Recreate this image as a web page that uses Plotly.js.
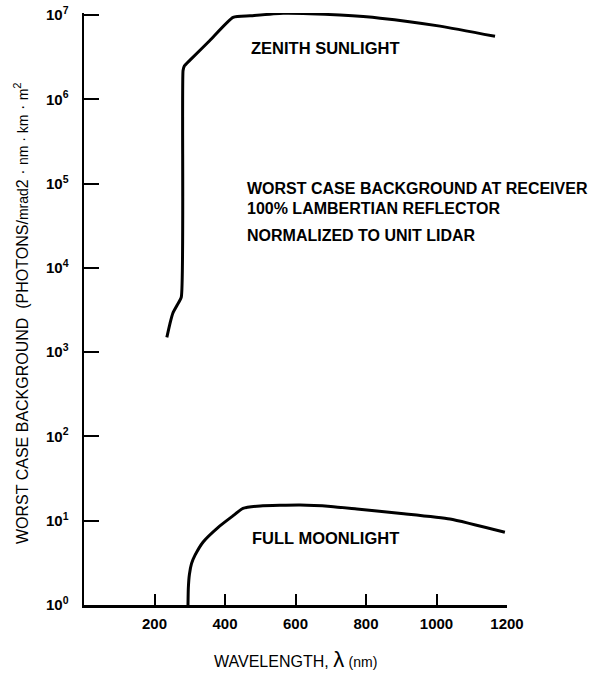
<!DOCTYPE html>
<html>
<head>
<meta charset="utf-8">
<script src="https://cdn.plot.ly/plotly-3.0.1.min.js"></script>
<style>html,body{margin:0;padding:0;background:#fff;}#chart{width:597px;height:677px;}</style>
</head>
<body>
<div id="chart"></div>
<script>
// Wavelength (nm) and worst-case background values
const sunWavelength = [235, 244, 252, 264, 276, 281, 285, 300, 357, 423, 471, 565, 640, 726, 840, 1010, 1166];
const sunBackground = [1500, 2200, 2900, 3600, 4500, 2.2e6, 2.5e6, 2.9e6, 5.0e6, 9.4e6, 9.8e6, 1.05e7, 1.04e7, 1.0e7, 9.2e6, 7.4e6, 5.6e6];

const moonWavelength = [295, 296, 299, 305, 315, 338, 380, 420, 451, 500, 613, 700, 774, 900, 1038, 1194];
const moonBackground = [1.0, 1.6, 2.3, 3.1, 3.9, 5.6, 8.3, 11.2, 14, 15, 15.4, 14.8, 13.8, 12.2, 10.5, 7.3];

const xTickVals = [200, 400, 600, 800, 1000, 1200];
const yTickVals = [1, 10, 100, 1000, 1e4, 1e5, 1e6, 1e7];
const yTickText = ['10<sup>0</sup>', '10<sup>1</sup>', '10<sup>2</sup>', '10<sup>3</sup>', '10<sup>4</sup>', '10<sup>5</sup>', '10<sup>6</sup>', '10<sup>7</sup>'];

const curveLabels = ['ZENITH SUNLIGHT', 'FULL MOONLIGHT'];
const noteLines = ['WORST CASE BACKGROUND AT RECEIVER', '100% LAMBERTIAN REFLECTOR', 'NORMALIZED TO UNIT LIDAR'];

const lineStyle = {color: '#000', width: 3, shape: 'spline', smoothing: 0.5};

const traces = [
  {x: sunWavelength, y: sunBackground, mode: 'lines', line: lineStyle, hoverinfo: 'skip'},
  {x: moonWavelength, y: moonBackground, mode: 'lines', line: lineStyle, hoverinfo: 'skip'}
];

const FAM = 'Liberation Sans, Arial, sans-serif';
const boldFont = (s) => ({family: FAM, color: '#000', size: s, weight: 'bold'});
const plainFont = (s) => ({family: FAM, color: '#000', size: s});

// plot area: x 84..507 px, y 13..605 px
const px2x = (px) => (px - 84) / 423;
const py2y = (py) => (605 - py) / 592;

const layout = {
  width: 597, height: 677,
  margin: {l: 84, r: 90, t: 13, b: 72},
  paper_bgcolor: '#fff', plot_bgcolor: '#fff',
  showlegend: false,
  font: plainFont(14),
  xaxis: {
    range: [0, 1200],
    tickvals: xTickVals,
    ticks: 'inside', ticklen: 11, tickwidth: 2, tickcolor: '#000',
    showline: true, linecolor: '#000', linewidth: 2.5,
    showgrid: false, zeroline: false,
    tickfont: boldFont(15),
    ticklabelstandoff: 3
  },
  yaxis: {
    type: 'log',
    range: [0, 7.025],
    tickvals: yTickVals, ticktext: yTickText,
    ticks: 'inside', ticklen: 15, tickwidth: 2, tickcolor: '#000',
    showline: true, linecolor: '#000', linewidth: 2.5,
    showgrid: false, zeroline: false,
    tickfont: boldFont(15),
    ticklabelstandoff: 10
  },
  annotations: [
    {xref: 'paper', yref: 'paper', x: px2x(295), y: py2y(659), xanchor: 'center', yanchor: 'middle',
     text: 'WAVELENGTH, <span style="font-size:22px">λ</span> <span style="font-size:14px">(nm)</span>',
     showarrow: false, font: plainFont(16)},
    {xref: 'paper', yref: 'paper', x: px2x(21), y: py2y(313), xanchor: 'center', yanchor: 'middle',
     textangle: -90,
     text: 'WORST CASE BACKGROUND  (PHOTONS/<span style="font-size:14px">mrad</span>2 · <span style="font-size:14px">nm · km</span> · <span style="font-size:14px">m</span><sup>2</sup>',
     showarrow: false, font: plainFont(16)},
    {xref: 'paper', yref: 'paper', x: px2x(325), y: py2y(48), xanchor: 'center', yanchor: 'middle',
     text: curveLabels[0], showarrow: false, font: boldFont(16.5)},
    {xref: 'paper', yref: 'paper', x: px2x(325), y: py2y(538), xanchor: 'center', yanchor: 'middle',
     text: curveLabels[1], showarrow: false, font: boldFont(16.5)},
    {xref: 'paper', yref: 'paper', x: px2x(245), y: py2y(189), xanchor: 'left', yanchor: 'middle',
     text: noteLines[0], showarrow: false, font: boldFont(16)},
    {xref: 'paper', yref: 'paper', x: px2x(245), y: py2y(208), xanchor: 'left', yanchor: 'middle',
     text: noteLines[1], showarrow: false, font: boldFont(16)},
    {xref: 'paper', yref: 'paper', x: px2x(245), y: py2y(235), xanchor: 'left', yanchor: 'middle',
     text: noteLines[2], showarrow: false, font: boldFont(16)}
  ]
};

Plotly.newPlot('chart', traces, layout, {displayModeBar: false, staticPlot: true});
</script>
</body>
</html>
